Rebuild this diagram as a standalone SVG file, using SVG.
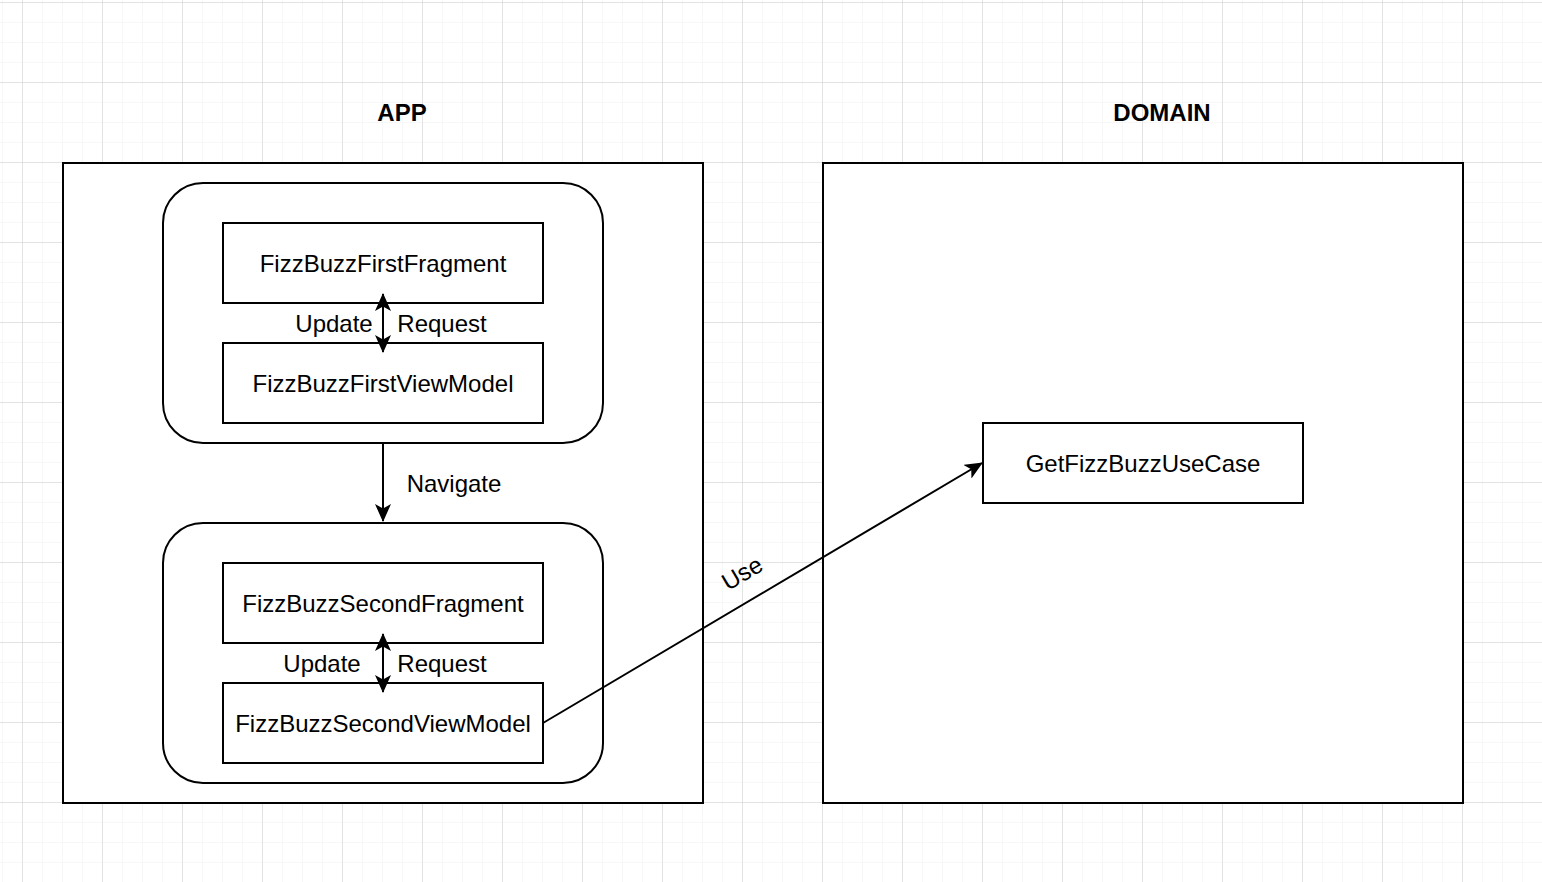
<svg xmlns="http://www.w3.org/2000/svg" width="1542" height="882" viewBox="0 0 1542 882">
<defs>
<pattern id="minor" x="2" y="2" width="20" height="20" patternUnits="userSpaceOnUse">
<path d="M0 0H20M0 0V20" stroke="#f0f0f0" stroke-width="1" fill="none"/>
</pattern>
<pattern id="major" x="22" y="2" width="80" height="80" patternUnits="userSpaceOnUse">
<path d="M0 0H80M0 0V80" stroke="#d0d0d0" stroke-width="1" fill="none"/>
</pattern>
<marker id="arr" viewBox="0 0 18 16" refX="17" refY="8" markerWidth="18" markerHeight="16" markerUnits="userSpaceOnUse" orient="auto-start-reverse">
<path d="M0 0L18 8L0 16L4.5 8Z" fill="#000"/>
</marker>
<style>
.box{fill:#fff;stroke:#000;stroke-width:2}
.t{font-family:"Liberation Sans",Arial,sans-serif;font-size:24px;fill:#000;text-anchor:middle;dominant-baseline:central}
.title{font-weight:bold}
.c{stroke:#000;stroke-width:2;fill:none}
</style>
</defs>
<rect width="1542" height="882" fill="#fff"/>
<rect width="1542" height="882" fill="url(#minor)"/>
<rect width="1542" height="882" fill="url(#major)"/>

<g id="app-title"><text class="t title" x="402" y="112">APP</text></g>
<g id="domain-title"><text class="t title" x="1162" y="112">DOMAIN</text></g>

<g id="app"><rect class="box" x="63" y="163" width="640" height="640"/></g>
<g id="domain"><rect class="box" x="823" y="163" width="640" height="640"/></g>

<g id="first-container"><rect class="box" x="163" y="183" width="440" height="260" rx="40" ry="40"/></g>
<g id="second-container"><rect class="box" x="163" y="523" width="440" height="260" rx="40" ry="40"/></g>

<g id="first-fragment"><rect class="box" x="223" y="223" width="320" height="80"/><text class="t" x="383" y="263">FizzBuzzFirstFragment</text></g>
<g id="first-viewmodel"><rect class="box" x="223" y="343" width="320" height="80"/><text class="t" x="383" y="383">FizzBuzzFirstViewModel</text></g>
<g id="second-fragment"><rect class="box" x="223" y="563" width="320" height="80"/><text class="t" x="383" y="603">FizzBuzzSecondFragment</text></g>
<g id="second-viewmodel"><rect class="box" x="223" y="683" width="320" height="80"/><text class="t" x="383" y="723">FizzBuzzSecondViewModel</text></g>
<g id="usecase"><rect class="box" x="983" y="423" width="320" height="80"/><text class="t" x="1143" y="463">GetFizzBuzzUseCase</text></g>

<g id="connectors">
<line class="c" x1="383" y1="294" x2="383" y2="352" marker-start="url(#arr)" marker-end="url(#arr)"/>
<line class="c" x1="383" y1="634" x2="383" y2="692" marker-start="url(#arr)" marker-end="url(#arr)"/>
<line class="c" x1="383" y1="443" x2="383" y2="521" marker-end="url(#arr)"/>
<line class="c" x1="543" y1="723" x2="982" y2="463" marker-end="url(#arr)"/>
<text class="t" x="334" y="323">Update</text>
<text class="t" x="442" y="323">Request</text>
<text class="t" x="322" y="663">Update</text>
<text class="t" x="442" y="663">Request</text>
<text class="t" x="454" y="483">Navigate</text>
<text class="t" x="742" y="573" transform="rotate(-30.6 742 573)">Use</text>
</g>
</svg>
